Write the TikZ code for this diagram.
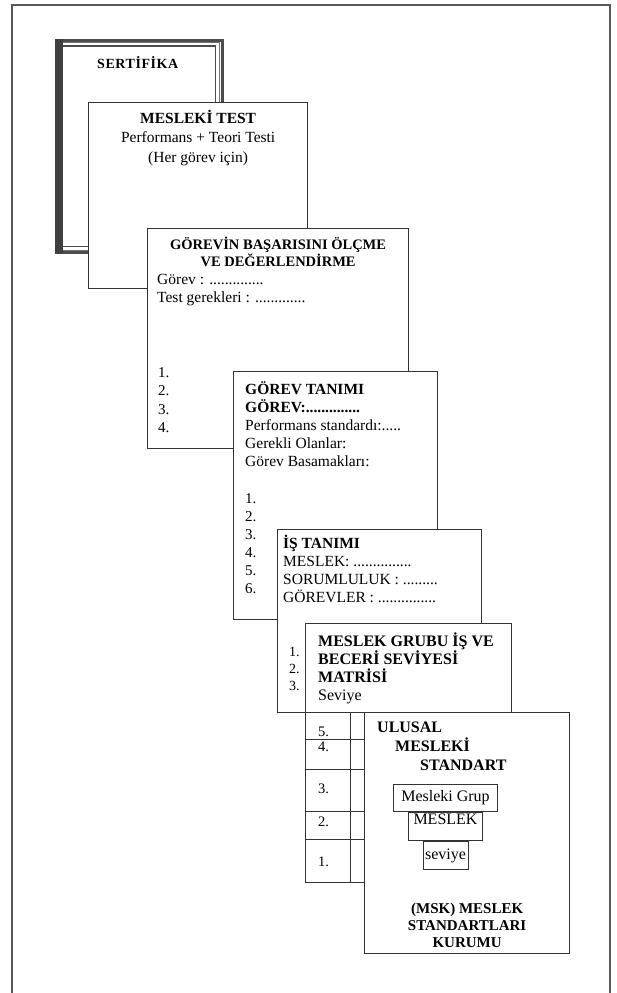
\documentclass[tikz,border=0pt]{standalone}
\usepackage{fontspec}
\setmainfont{Liberation Serif}
\usetikzlibrary{positioning, calc}

\newcommand\txtfont{\fontsize{15.5}{18}\selectfont}
\newcommand\hdfont{\fontsize{14.5}{17}\selectfont\bfseries}

\begin{document}
\begin{tikzpicture}[
  x=1pt, y=-1pt,
  sheet/.style={draw=black!80, line width=1.3pt, fill=white, anchor=north west,
                inner sep=0pt},
  txt/.style={font=\txtfont, inner sep=0pt, align=left, anchor=north west},
  hd/.style={font=\hdfont, inner sep=0pt, align=left, anchor=north west},
  num/.style={font=\fontsize{14.5}{17}\selectfont, inner sep=0pt, anchor=west},
  grid/.style={draw=black!80, line width=1pt},
  inbox/.style={draw=black!80, line width=1pt, inner sep=0pt,
                font=\fontsize{16}{18}\selectfont},
  frame/.style={draw=black!65, line width=1.4pt},
  node distance=0pt
]
\useasboundingbox (0,0) rectangle (616,993);
\fill[white] (0,0) rectangle (616,993);

% outer frame, open at the bottom
\draw[frame] (12,993) -- (12,5) -- (610,5) -- (610,993);

% certificate with heavy border
\node[sheet, draw=black!70, line width=2.6pt, minimum width=166pt,
      minimum height=212pt] (sert) at (55,39) {};
\draw[black!55, line width=0.8pt] ($(sert.north west)+(4,3.5)$)
  rectangle ($(sert.south east)+(-4.5,-3.5)$);
\draw[black!70, line width=1.4pt] ($(sert.north west)+(7,7)$)
  rectangle ($(sert.south east)+(-8,-7)$);
\fill[black!75] (sert.north west) rectangle ($(sert.south west)+(8,0)$);
\node[hd, font=\fontsize{14}{16}\selectfont\bfseries\addfontfeature{LetterSpace=4},
      below right=17pt and 42pt of sert.north west] (sertT) {SERTİFİKA};

% test sheet
\node[sheet, minimum width=219pt, minimum height=186pt] (mtest) at (88,102) {};
\node[txt, align=center, font=\fontsize{15.5}{19.5}\selectfont,
      below=8pt of mtest.north] (mtestT)
  {\textbf{MESLEKİ TEST}\\Performans + Teori Testi\\(Her görev için)};

% measuring and evaluating
\node[sheet, minimum width=261pt, minimum height=220pt] (olcme) at (147,228) {};
\node[hd, align=center, below=9pt of olcme.north] (olcmeT)
  {GÖREVİN BAŞARISINI ÖLÇME\\VE DEĞERLENDİRME};
\node[txt, below right=46pt and 10pt of olcme.north west] (olcmeB)
  {Görev : ..............\\Test gerekleri : .............};
\node[txt, font=\fontsize{15}{18.5}\selectfont,
      below right=139pt and 11pt of olcme.north west] (olcmeN)
  {1.\\2.\\3.\\4.};

% task description
\node[sheet, minimum width=204pt, minimum height=248pt] (gtanim) at (233,371) {};
\node[txt, below right=10pt and 12pt of gtanim.north west] (gtanimT)
  {\textbf{GÖREV TANIMI}\\\textbf{GÖREV:..............}\\
   Performans standardı:.....\\Gerekli Olanlar:\\Görev Basamakları:};
\node[txt, font=\fontsize{15}{18}\selectfont,
      below right=122pt and 12pt of gtanim.north west] (gtanimN)
  {1.\\2.\\3.\\4.\\5.\\6.};

% job description
\node[sheet, minimum width=204pt, minimum height=183pt] (istanim) at (277,529) {};
\node[txt, below right=6pt and 6pt of istanim.north west] (istanimT)
  {\textbf{İŞ TANIMI}\\MESLEK: ...............\\SORUMLULUK : .........\\
   GÖREVLER : ...............};
\node[txt, font=\fontsize{14}{17}\selectfont,
      below right=118pt and 12pt of istanim.north west] (istanimN)
  {1.\\2.\\3.};

% skill level matrix
\node[sheet, minimum width=206pt, minimum height=259pt] (matris) at (305,623) {};
\node[txt, font=\fontsize{16}{18}\selectfont,
      below right=10pt and 13pt of matris.north west] (matrisT)
  {\textbf{MESLEK GRUBU İŞ VE}\\\textbf{BECERİ SEVİYESİ}\\\textbf{MATRİSİ}\\Seviye};
\foreach \yy in {89,116,146,188,216}
  \draw[grid] ($(matris.north west)+(0,\yy)$) -- ++(206,0);
\draw[grid] ($(matris.north west)+(45,89)$) -- ($(matris.south west)+(45,0)$);
\foreach \n/\yy in {5/109,4/124,3/166,2/199,1/239}
  \node[num] (row\n) at ($(matris.north west)+(13,\yy)$) {\n.};

% national standard
\node[sheet, minimum width=205pt, minimum height=241pt] (ulusal) at (364,712) {};
\node[hd, font=\fontsize{16}{19}\selectfont\bfseries,
      below right=10pt and 13pt of ulusal.north west] (ulusalT)
  {ULUSAL\\\hspace*{18pt}MESLEKİ\\\hspace*{43pt}STANDART};
\node[inbox, minimum width=104pt, minimum height=27pt,
      below right=72pt and 29pt of ulusal.north west] (grup) {Mesleki Grup};
\node[inbox, minimum width=74pt, minimum height=28pt, below=0pt of grup] (meslek) {};
\node[inbox, draw=none, anchor=north, below=1pt of meslek.north] (meslekT) {MESLEK};
\node[inbox, minimum width=45pt, minimum height=28pt, below=0pt of meslek] (seviye) {seviye};
\node[hd, align=center, font=\fontsize{15}{17}\selectfont\bfseries,
      below=191pt of ulusal.north] (msk)
  {(MSK) MESLEK\\STANDARTLARI\\KURUMU};

\end{tikzpicture}
\end{document}
